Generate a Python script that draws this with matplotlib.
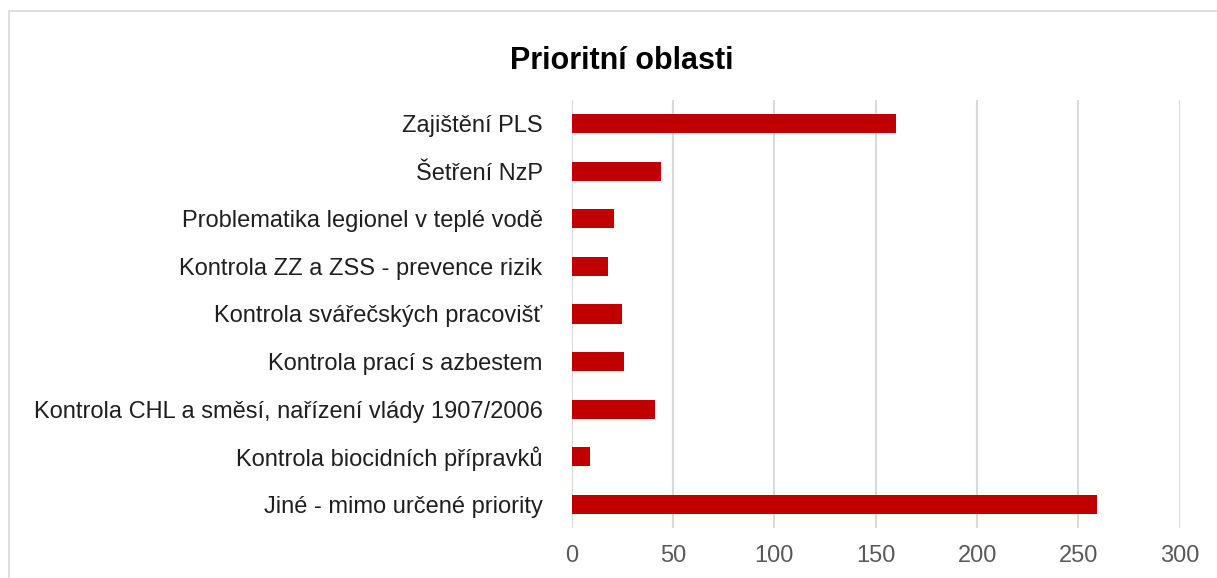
import matplotlib.pyplot as plt
from matplotlib.patches import Rectangle

plt.rcParams['font.family'] = ['Liberation Sans', 'DejaVu Sans']

categories = [
    "Zajištění PLS",
    "Šetření NzP",
    "Problematika legionel v teplé vodě",
    "Kontrola ZZ a ZSS - prevence rizik",
    "Kontrola svářečských pracovišť",
    "Kontrola prací s azbestem",
    "Kontrola CHL a směsí, nařízení vlády 1907/2006",
    "Kontrola biocidních přípravků",
    "Jiné - mimo určené priority",
]
values = [160, 44, 21, 18, 25, 26, 41, 9, 259]
x_ticks = [0, 50, 100, 150, 200, 250, 300]

fig = plt.figure(figsize=(12.17, 5.78), dpi=100)
ax = fig.add_axes([0.4698, 0.0865, 0.4996, 0.7405])

# rámeček grafu
fig.patches.append(Rectangle((9 / 1217, -0.05), 1.2, 1 - 11 / 578 + 0.05,
                             transform=fig.transFigure, fill=False,
                             edgecolor='#d9d9d9', linewidth=1.2))

y = list(range(len(categories)))
ax.barh(y, values, height=0.4, color='#c00000', zorder=3)
ax.set_ylim(len(categories) - 0.5, -0.5)
ax.set_xlim(0, 300)
ax.set_xticks(x_ticks)
ax.set_yticks(y)
ax.set_yticklabels(categories, fontsize=17, color='#1f1f1f')
ax.tick_params(axis='x', labelsize=17, labelcolor='#595959', length=0, pad=12)
ax.tick_params(axis='y', length=0, pad=21)
ax.grid(axis='x', color='#d9d9d9', linewidth=1.5, zorder=0)
for s in ax.spines.values():
    s.set_visible(False)

fig.text(622 / 1217, 1 - 69 / 578, "Prioritní oblasti", fontsize=22,
         fontweight='bold', ha='center', va='baseline', color='#000000')

fig.savefig("out.png", dpi=100)
